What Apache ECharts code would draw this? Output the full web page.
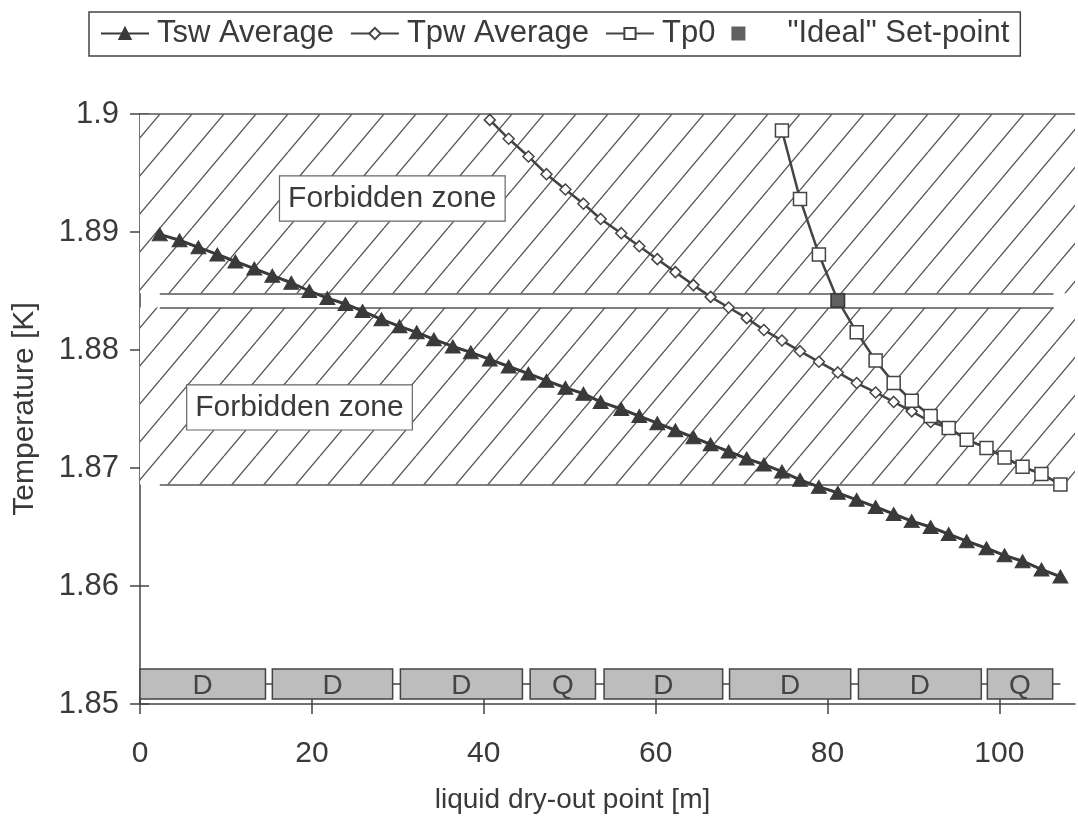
<!DOCTYPE html>
<html>
<head>
<meta charset="utf-8">
<script src="https://cdn.jsdelivr.net/npm/echarts@6/dist/echarts.min.js"></script>
<style>
  html, body { margin: 0; padding: 0; background: #fff; }
  #main { width: 1078px; height: 832px; }
</style>
</head>
<body>
<div id="main"></div>
<script>
// x positions of the computed points (m)
const tswX = [2.3, 4.6, 6.8, 9.0, 11.1, 13.3, 15.4, 17.6, 19.7, 21.8,
  23.9, 25.9, 28.1, 30.2, 32.2, 34.2, 36.4, 38.5, 40.7, 42.9,
  45.2, 47.3, 49.5, 51.6, 53.6, 56.0, 58.1, 60.2, 62.3, 64.4,
  66.4, 68.5, 70.6, 72.6, 74.7, 76.8, 79.0, 81.2, 83.4, 85.6,
  87.7, 89.8, 92.0, 94.1, 96.2, 98.5, 100.6, 102.7, 104.9, 107.1];
const tswY = [1.8898, 1.8893, 1.8887, 1.8881, 1.8875, 1.8869, 1.8863, 1.8857, 1.8850, 1.8844,
  1.8839, 1.8833, 1.8826, 1.8820, 1.8815, 1.8809, 1.8803, 1.8798, 1.8792, 1.8786,
  1.8780, 1.8774, 1.8768, 1.8763, 1.8756, 1.8750, 1.8744, 1.8738, 1.8732, 1.8726,
  1.8720, 1.8714, 1.8708, 1.8703, 1.8697, 1.8690, 1.8684, 1.8679, 1.8673, 1.8667,
  1.8661, 1.8655, 1.8650, 1.8644, 1.8638, 1.8632, 1.8626, 1.8621, 1.8614, 1.8608];

const tpwX = [40.7, 42.9, 45.2, 47.3, 49.5, 51.6, 53.6, 56.0, 58.1, 60.2,
  62.3, 64.4, 66.4, 68.5, 70.6, 72.6, 74.7, 76.8, 79.0, 81.2,
  83.4, 85.6, 87.7, 89.8, 92.0, 94.1, 96.2, 98.5, 100.6, 102.7, 104.9, 107.1];
const tpwY = [1.8995, 1.8979, 1.8964, 1.8949, 1.8936, 1.8924, 1.8911, 1.8899, 1.8888, 1.8877,
  1.8866, 1.8855, 1.8845, 1.8836, 1.8827, 1.8817, 1.8808, 1.8799, 1.8790, 1.8781,
  1.8772, 1.8764, 1.8756, 1.8748, 1.8739, 1.8734, 1.8724, 1.8717, 1.8709, 1.8701, 1.8695, 1.8686];

const tp0X = [74.7, 76.8, 79.0, 81.2, 83.4, 85.6, 87.7, 89.8, 92.0, 94.1, 96.2, 98.5, 100.6, 102.7, 104.9, 107.1];
const tp0Y = [1.8986, 1.8928, 1.8881, 1.8842, 1.8815, 1.8791, 1.8772, 1.8757, 1.8744, 1.8734, 1.8724, 1.8717, 1.8709, 1.8701, 1.8695, 1.8686];

const setPointX = [81.2];
const setPointY = [1.8842];

// forbidden bands (temperature limits)
const bandLow = [1.8848, 1.8686];
const bandHigh = [1.9, 1.8836];
const bandEdgeX = [2.3, 106.3];

// "Forbidden zone" boxes: top-left corner
const zoneLabelX = [16.3, 5.5];
const zoneLabelY = [1.8947, 1.8770];
const zoneLabelText = ['Forbidden zone', 'Forbidden zone'];

// magnet layout along the cell
const magnetLabels = ['D', 'D', 'D', 'Q', 'D', 'D', 'D', 'Q'];
const magnetStart = [0, 15.4, 30.3, 45.4, 54.0, 68.6, 83.6, 98.6];
const magnetEnd = [14.6, 29.4, 44.5, 53.0, 67.8, 82.7, 97.9, 106.2];
const magnetTop = 1.85297;
const magnetBottom = 1.85042;
const beamX = [0, 107.1];
const beamY = 1.8517;

const xTicks = [0, 20, 40, 60, 80, 100];
const xMax = 108.8;

const FONT = 'Liberation Sans, Arial, sans-serif';
const INK = '#3a3a3a';

function hatchCanvas() {
  const w = 32, h = 38;
  const c = document.createElement('canvas');
  c.width = w; c.height = h;
  const g = c.getContext('2d');
  g.fillStyle = '#fff';
  g.fillRect(0, 0, w, h);
  g.strokeStyle = '#555';
  g.lineWidth = 1.3;
  g.beginPath();
  for (const k of [-1, 0, 1]) {
    g.moveTo(k * w, h);
    g.lineTo(k * w + w, 0);
  }
  g.stroke();
  return c;
}

const zip = (xs, ys) => xs.map((x, i) => [x, ys[i]]);

const myChart = echarts.init(document.getElementById('main'));

const hatch = { image: hatchCanvas(), repeat: 'repeat' };
const edgeStyle = { color: '#555', width: 1.5, type: 'solid' };

const option = {
  animation: false,
  backgroundColor: '#fff',
  textStyle: { fontFamily: FONT },
  legend: {
    data: [
      'Tsw Average',
      'Tpw Average',
      'Tp0',
      { name: '"Ideal" Set-point', icon: 'path://M0,0H10V10H0Z', textStyle: { padding: [0, 0, 0, 20] } }
    ],
    left: 89,
    top: 12,
    padding: [6, 11, 7, 11],
    itemGap: 16,
    itemWidth: 48,
    itemHeight: 14,
    symbolKeepAspect: true,
    borderColor: '#444',
    borderWidth: 1.5,
    textStyle: { fontSize: 31, color: INK, fontFamily: FONT, padding: [0, 0, 0, 3] }
  },
  grid: { left: 140, top: 114, right: 3, bottom: 128 },
  xAxis: [
    {
      type: 'value', min: 0, max: xMax, interval: 20,
      axisLine: { show: true, lineStyle: { color: '#444', width: 1.5 } },
      axisTick: { show: true, length: 10, customValues: xTicks, lineStyle: { color: '#444', width: 1.5 } },
      axisLabel: { customValues: xTicks, margin: 35, fontSize: 30, color: INK, fontFamily: FONT },
      splitLine: { show: false },
      name: 'liquid dry-out point [m]',
      nameLocation: 'middle',
      nameGap: 82,
      nameTextStyle: { fontSize: 28, color: INK, fontFamily: FONT, padding: [0, 70, 0, 0] }
    },
    {
      type: 'value', min: 0, max: xMax, interval: 20, position: 'bottom',
      axisLine: { show: false },
      axisTick: { show: true, inside: true, length: 9, customValues: xTicks, lineStyle: { color: '#444', width: 1.5 } },
      axisLabel: { show: false },
      splitLine: { show: false }
    }
  ],
  yAxis: [
    {
      type: 'value', min: 1.85, max: 1.9, interval: 0.01,
      axisLine: { show: true, lineStyle: { color: '#444', width: 1.5 } },
      axisTick: { show: true, length: 10, lineStyle: { color: '#444', width: 1.5 } },
      axisLabel: { margin: 21, fontSize: 31, color: INK, fontFamily: FONT },
      splitLine: { show: false },
      name: 'Temperature [K]',
      nameLocation: 'middle',
      nameGap: 100,
      nameTextStyle: { fontSize: 30, color: INK, fontFamily: FONT }
    },
    {
      type: 'value', min: 1.85, max: 1.9, interval: 0.01, position: 'left',
      axisLine: { show: false },
      axisTick: { show: true, inside: true, length: 9, lineStyle: { color: '#444', width: 1.5 } },
      axisLabel: { show: false },
      splitLine: { show: false }
    }
  ],
  series: [
    {
      name: 'zones',
      type: 'line',
      data: [],
      z: 1,
      silent: true,
      markArea: {
        silent: true,
        itemStyle: { color: hatch, borderWidth: 0 },
        data: bandLow.map((lo, i) => [
          { xAxis: 0, yAxis: lo },
          { xAxis: xMax, yAxis: bandHigh[i] }
        ])
      },
      markLine: {
        silent: true,
        symbol: 'none',
        label: { show: false },
        lineStyle: edgeStyle,
        data: [
          [{ coord: [0, bandHigh[0]] }, { coord: [xMax, bandHigh[0]] }],
          [{ coord: [bandEdgeX[0], bandLow[0]] }, { coord: [bandEdgeX[1], bandLow[0]] }],
          [{ coord: [bandEdgeX[0], bandHigh[1]] }, { coord: [bandEdgeX[1], bandHigh[1]] }],
          [{ coord: [bandEdgeX[0], bandLow[1]] }, { coord: [bandEdgeX[1], bandLow[1]] }]
        ]
      }
    },
    {
      name: 'beam',
      type: 'line',
      data: beamX.map(x => [x, beamY]),
      symbol: 'none',
      z: 2,
      silent: true,
      lineStyle: { color: '#444', width: 1.5 }
    },
    {
      name: 'magnets',
      type: 'custom',
      z: 3,
      silent: true,
      clip: false,
      data: magnetStart.map((s, i) => [s, magnetEnd[i]]),
      renderItem: function (params, api) {
        const p0 = api.coord([api.value(0), magnetTop]);
        const p1 = api.coord([api.value(1), magnetBottom]);
        return {
          type: 'group',
          children: [
            {
              type: 'rect',
              shape: { x: p0[0], y: p0[1], width: p1[0] - p0[0], height: p1[1] - p0[1] },
              style: { fill: '#bdbdbd', stroke: '#444', lineWidth: 1.5 }
            },
            {
              type: 'text',
              style: {
                text: magnetLabels[params.dataIndex],
                x: (p0[0] + p1[0]) / 2,
                y: (p0[1] + p1[1]) / 2 + 2,
                align: 'center',
                verticalAlign: 'middle',
                font: '28px ' + FONT,
                fill: '#444'
              }
            }
          ]
        };
      }
    },
    {
      name: 'zoneLabels',
      type: 'custom',
      z: 4,
      silent: true,
      clip: false,
      data: zip(zoneLabelX, zoneLabelY),
      renderItem: function (params, api) {
        const p = api.coord([api.value(0), api.value(1)]);
        return {
          type: 'text',
          x: p[0],
          y: p[1],
          style: {
            text: zoneLabelText[params.dataIndex],
            font: '30px ' + FONT,
            fill: INK,
            align: 'left',
            verticalAlign: 'top',
            backgroundColor: '#fff',
            borderColor: '#666',
            borderWidth: 1.2,
            padding: [7, 8, 7, 8]
          }
        };
      }
    },
    {
      name: 'Tsw Average',
      type: 'line',
      z: 5,
      data: zip(tswX, tswY),
      symbol: 'triangle',
      symbolSize: [15, 13],
      lineStyle: { color: INK, width: 3 },
      itemStyle: { color: INK, borderColor: INK, borderWidth: 1 }
    },
    {
      name: 'Tpw Average',
      type: 'line',
      z: 5,
      data: zip(tpwX, tpwY),
      symbol: 'diamond',
      symbolSize: 11,
      lineStyle: { color: '#444', width: 2.5 },
      itemStyle: { color: '#fff', borderColor: '#444', borderWidth: 1.5 }
    },
    {
      name: 'Tp0',
      type: 'line',
      z: 6,
      data: zip(tp0X, tp0Y),
      symbol: 'rect',
      symbolSize: 13,
      lineStyle: { color: '#444', width: 2.5 },
      itemStyle: { color: '#fff', borderColor: '#444', borderWidth: 1.5 }
    },
    {
      name: '"Ideal" Set-point',
      type: 'scatter',
      z: 7,
      data: zip(setPointX, setPointY),
      symbol: 'rect',
      symbolSize: 15,
      itemStyle: { color: INK }
    }
  ]
};

myChart.setOption(option);
</script>
</body>
</html>
